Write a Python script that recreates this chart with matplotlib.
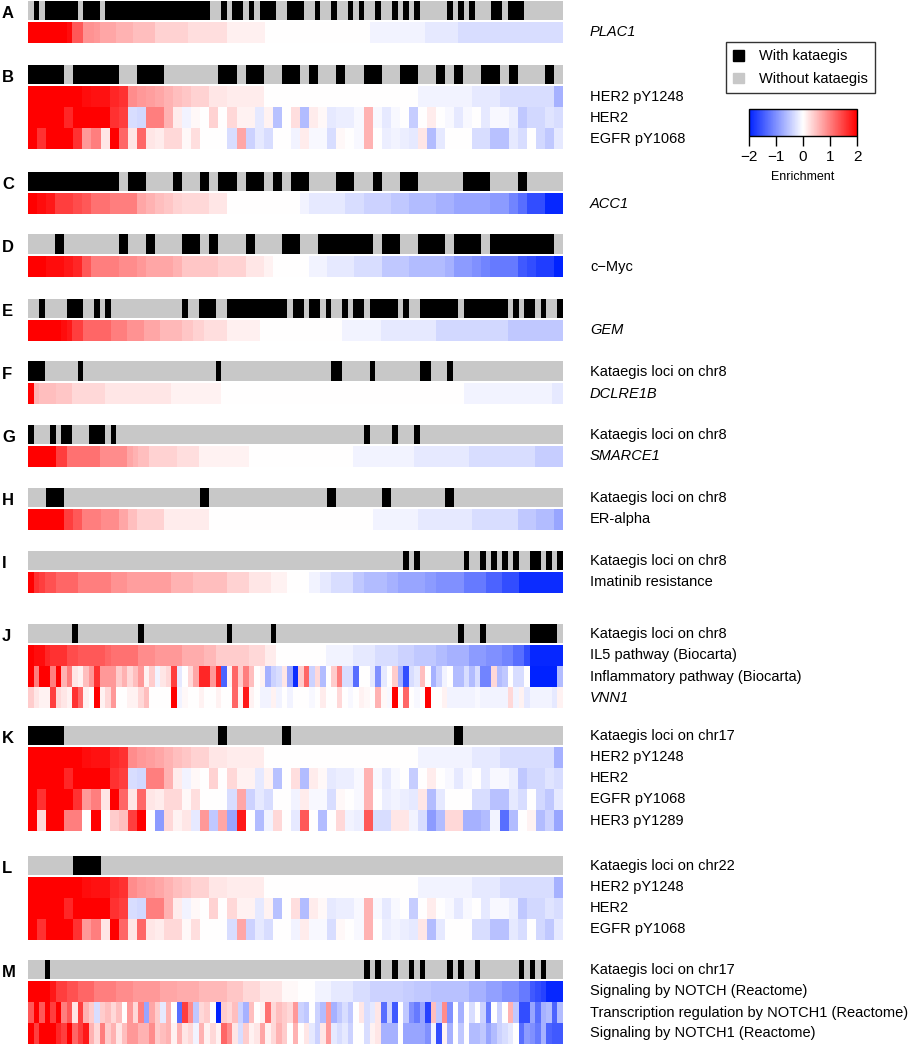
import numpy as np
import matplotlib
matplotlib.use('Agg')
import matplotlib.pyplot as plt
from matplotlib.colors import LinearSegmentedColormap, ListedColormap, Normalize
from matplotlib.cm import ScalarMappable
from matplotlib.patches import Patch

plt.rcParams['font.family'] = ['Liberation Sans', 'DejaVu Sans']

# kataegis status per sample, as run lengths: gray, black, gray, black, ...
kat_A = [1, 1, 1, 6, 1, 3, 1, 19, 2, 1, 1, 2, 1, 1, 1, 3, 2, 3, 2, 1, 2, 1, 2, 1, 1, 1, 2, 1, 2, 1,
         1, 1, 1, 1, 5, 1, 1, 1, 1, 1, 3, 2, 1, 3, 7]
kat_B = [0, 4, 1, 5, 2, 3, 6, 2, 1, 2, 2, 2, 1, 1, 2, 1, 2, 2, 2, 2, 2, 1, 1, 1, 2, 2, 1, 1, 3, 1, 1]
kat_C = [0, 10, 1, 2, 3, 1, 2, 1, 1, 2, 1, 2, 1, 1, 1, 2, 3, 2, 2, 1, 2, 2, 5, 3, 3, 1, 4]
kat_D = [3, 1, 6, 1, 2, 1, 3, 2, 1, 1, 3, 1, 3, 2, 2, 6, 1, 2, 2, 3, 1, 3, 1, 7, 1]
kat_E = [2, 1, 4, 3, 2, 1, 1, 1, 13, 1, 2, 3, 2, 11, 1, 2, 1, 2, 1, 1, 2, 1, 1, 2, 1, 5, 1, 1, 2, 7,
         1, 8, 1, 1, 1, 2, 1, 1, 2, 1]
kat_F = [0, 3, 6, 1, 24, 1, 20, 2, 5, 1, 8, 2, 3, 1, 20]
kat_G = [0, 1, 3, 1, 1, 2, 3, 3, 1, 1, 45, 1, 4, 1, 3, 1, 26]
kat_H = [2, 2, 15, 1, 13, 1, 5, 1, 6, 1, 12]
kat_I = [68, 1, 1, 1, 8, 1, 2, 1, 1, 1, 1, 1, 1, 1, 2, 2, 1, 1, 1, 1]
kat_J = [8, 1, 11, 1, 15, 1, 7, 1, 33, 1, 3, 1, 8, 5, 1]
kat_K = [0, 4, 17, 1, 6, 1, 18, 1, 11]
kat_L = [5, 3, 51]
kat_M = [3, 1, 57, 1, 1, 1, 2, 1, 2, 1, 1, 1, 4, 1, 1, 1, 2, 1, 7, 1, 1, 1, 1, 1, 3]

# sorted enrichment rows, as (value, number of samples)
plac1 = [(2, 7), (1.9, 1), (1.3, 2), (0.85, 2), (0.8, 1), (0.7, 3), (0.6, 3), (0.5, 4), (0.35, 6),
         (0.25, 7), (0.12, 7), (0, 19), (-0.1, 10), (-0.2, 6), (-0.3, 19)]
her2_py1248 = [(2, 6), (1.9, 1), (1.85, 2), (1.7, 1), (1.6, 1), (0.9, 1), (0.8, 1), (0.75, 1), (0.7, 1),
               (0.6, 1), (0.5, 1), (0.45, 1), (0.35, 2), (0.2, 2), (0.15, 4), (0, 17), (-0.1, 6),
               (-0.2, 3), (-0.3, 6), (-0.7, 1)]
acc1 = [(2, 1), (1.9, 1), (1.8, 1), (1.5, 2), (1.4, 1), (1.3, 1), (1.1, 2), (1.0, 3), (0.7, 1), (0.6, 1),
        (0.5, 1), (0.45, 1), (0.35, 1), (0.3, 3), (0.2, 2), (0, 8), (-0.1, 1), (-0.2, 4), (-0.3, 2),
        (-0.4, 3), (-0.5, 2), (-0.6, 3), (-0.7, 2), (-0.8, 4), (-0.9, 2), (-1.1, 1), (-1.3, 1),
        (-1.6, 2), (-1.95, 2)]
cmyc = [(2, 2), (1.9, 2), (1.8, 1), (1.7, 1), (1.3, 1), (1.0, 3), (0.9, 2), (0.8, 1), (0.7, 3), (0.6, 1),
        (0.45, 4), (0.35, 3), (0.2, 2), (0.1, 1), (0, 4), (-0.1, 2), (-0.2, 3), (-0.3, 3), (-0.5, 3),
        (-0.6, 4), (-0.7, 1), (-0.9, 2), (-1.0, 1), (-1.1, 1), (-1.2, 3), (-1.5, 1), (-1.6, 1),
        (-1.75, 2), (-2, 1)]
gem = [(2, 6), (1.9, 1), (1.8, 1), (1.5, 2), (1.2, 5), (1.0, 3), (0.85, 3), (0.7, 3), (0.55, 4),
       (0.45, 2), (0.35, 2), (0.25, 4), (0.12, 6), (0, 15), (-0.1, 7), (-0.2, 10), (-0.35, 13), (-0.5, 10)]
dclre1b = [(2, 1), (0.6, 1), (0.5, 3), (0.45, 3), (0.3, 6), (0.2, 12), (0.1, 9), (0, 44), (-0.1, 16),
           (-0.2, 2)]
smarce1 = [(2, 5), (1.5, 2), (1.1, 6), (0.9, 5), (0.7, 1), (0.6, 1), (0.5, 2), (0.35, 5), (0.25, 4),
           (0.1, 9), (0, 19), (-0.1, 11), (-0.2, 10), (-0.3, 12), (-0.45, 5)]
er_alpha = [(2, 4), (1.5, 1), (1.3, 1), (1.0, 2), (0.9, 2), (0.7, 1), (0.5, 1), (0.35, 3), (0.15, 5),
            (0, 18), (-0.1, 5), (-0.2, 6), (-0.3, 5), (-0.5, 2), (-0.6, 2), (-0.8, 1)]
imatinib = [(2, 1), (1.6, 1), (1.5, 1), (1.35, 2), (1.2, 4), (1.0, 6), (0.85, 3), (0.75, 8), (0.6, 4),
            (0.5, 6), (0.35, 4), (0.2, 4), (0.1, 3), (0, 4), (-0.1, 2), (-0.2, 2), (-0.3, 4), (-0.5, 2),
            (-0.6, 4), (-0.7, 2), (-0.8, 5), (-0.9, 2), (-1.0, 5), (-1.2, 4), (-1.4, 3), (-1.6, 3),
            (-1.9, 8)]
il5 = [(2, 1), (1.9, 2), (1.7, 1), (1.6, 3), (1.4, 2), (1.3, 5), (1.2, 1), (1.1, 5), (0.9, 3), (0.8, 5),
       (0.65, 4), (0.55, 2), (0.4, 6), (0.3, 3), (0.15, 2), (0, 9), (-0.1, 5), (-0.2, 4), (-0.3, 4),
       (-0.4, 3), (-0.5, 4), (-0.6, 2), (-0.7, 4), (-0.9, 3), (-1.0, 3), (-1.1, 2), (-1.3, 2),
       (-1.6, 1), (-1.95, 6)]
notch = [(2, 4), (1.8, 1), (1.5, 2), (1.35, 2), (1.2, 3), (1.0, 4), (0.9, 3), (0.8, 5), (0.7, 3),
         (0.65, 4), (0.55, 5), (0.45, 3), (0.3, 3), (0.2, 4), (0.05, 3), (0, 3), (-0.1, 3), (-0.2, 4),
         (-0.3, 3), (-0.4, 6), (-0.45, 2), (-0.5, 3), (-0.55, 7), (-0.7, 3), (-0.85, 3), (-1.0, 3),
         (-1.2, 2), (-1.5, 1), (-1.6, 1), (-1.7, 1), (-1.95, 3)]

# unsorted rows, one value per sample
her2 = [2, 2, 2, 2, 1.7, 2, 2, 2, 2, 1.6, 1.5, -0.3, -0.35, 1.0, 1.0, 0.6, 0.15, -0.1, 0.05, 0,
        0.35, 0, 0.3, 0.1, 0.1, -0.2, 0.1, -0.55, 0, 0.25, -0.6, 0.15, 0.05, -0.2, -0.15, -0.15, -0.05,
        0.6, -0.05, -0.2, -0.05, 0, -0.45, 0, 0.15, 0, -0.05, -0.2, -0.05, 0, -0.2, -0.05, -0.05,
        -0.15, -0.5, -0.35, -0.35, -0.25, -0.3]
egfr_py1068 = [2, 1.6, 2, 2, 2, 1.6, 0.8, 1.0, 0.2, 2, 1.2, 0.2, 1.2, 0.2, 0.15, 0.3, 0.3, 0.05, 0.25,
               0, 0, 0, -0.3, 0.7, -0.4, -0.2, -0.3, 0, 0, -0.1, 0.15, -0.05, -0.05, -0.3, 0.05, 0,
               -0.05, 0.6, 0, -0.15, -0.1, -0.15, -0.2, 0.2, -0.6, -0.2, 0, 0, 0, -0.3, -0.3, -0.55,
               -0.55, -0.2, -0.3, 0, -0.35, -0.5, -0.2]
her3_py1289 = [2, 0.3, 2, 2, 1.0, 1.0, 0, 2, 0, 0.4, 0.5, 1.5, 2, 0, -0.9, 0.3, 0.1, 0.2, -0.2, 0.8,
               -0.5, 0.7, -0.8, 1.8, 0, -0.6, -0.1, 0.3, 0, -0.2, 1.3, 0, -0.6, 0, 0.3, -0.1, -0.15,
               1.3, -0.3, -0.3, 0.2, 0.2, -0.1, -0.3, -0.9, -0.6, 0.3, 0.3, -0.7, -0.7, -0.6, -0.1,
               -1.3, -0.6, 0, 0.1, -0.6, -0.4, -0.8]
inflammatory = [2, 1.0, 2, 2, 1.0, 2, 0.6, 1.0, 0.2, 0.1, 0.5, 0.8, 1.6, 0.8, 0.8, 0.8, 0.4, 0.6, 0.3,
                0.5, 0.8, 0.1, 0.4, -0.1, 0.2, 0.3, 1.5, -0.2, 0, 0.3, 0.7, 1.7, 1.7, 0.8, 1.7, -1.4,
                0.1, 1.2, 0.4, 1.0, 0.5, 0, 0.1, -0.7, -0.4, -0.3, 0.2, -0.8, -1.9,
                0.4, 1.2, -0.4, 0.3, -0.6, 0, 0.4, 1.0, -0.3, -0.3, -1.3, 0, 0, -0.2, -1.0, -0.2, 0,
                0.4, -0.7, -1.6, -0.3, -0.2, 0.5, 0, -0.7, -0.4, -0.1, 0, -0.6, -0.6, -0.3, -0.6,
                -0.3, -1.1, -1.1, 0.3, -0.6, -0.5, 0, -0.3, -0.3, 0, -2, -2, -2, -2, -2, -0.6]
vnn1 = [0.4, 0.2, 0.1, 0.1, 1.5, 0.3, 0.2, 0.1, 1.6, 1.2, 0.1, 0, 2, 0.1, 0.3, 0.8, 0, 0, 0.1, 0.1,
        0.3, 0.5, 0, 0, 0, 0, 2, -0.1, 0.05, 0, 0, 0.1, 0, 0, 0.1, 0, 0, 1.2, 0.1, 1.8, 0.1, 0, -0.1,
        -0.1, 0.1, -0.1, 0, -0.1, 0,
        0, 0, -0.05, 0, 0.15, 0, 0, 0.3, 0, -0.05, 0, 0.1, 0.05, 0, 0.6, 0.05, -0.05, 2, 0, 1.2, 0,
        -0.05, 0, 2, 0, 0, 0.1, -0.1, -0.1, -0.1, -0.1, -0.1, -0.05, -0.1, -0.1, -0.1, -0.1, -0.1,
        0.3, -0.1, 0.1, -0.2, -0.1, -0.1, -0.1, -0.1, -0.2, 0.1]
notch1_transcription = [1.3, 2, 1.3, 2, 1.5, 2, 1.0, 1.3, 0.2, 1.5, 0.6, 0.4, -0.3, 0.4, 0.5, 0.3, 0.5,
                        0, 0.8, 0.3, 1.0, -0.8, 0.7, 0.4, -0.2, 0.6, 0, -1.3, 1.5, 0.9, -0.5, 0.3,
                        0.4, 0, -2, 0.4, 0.3, 0.5, -0.4, -0.7, 0.5, 0, 0.1, 1.1, 0.3, 0.5, 0.4, 0.3,
                        0.8,
                        -0.4, -0.5, 0, -0.4, -0.6, 0.8, -0.7, -0.5, -0.3, -0.5, 0, 0.2, -0.3, -0.2,
                        0.2, -1.3, -0.4, -1.5, 0, -0.5, -1.0, -1.2, -0.8, -1.7, 0.5, -0.5, 0.9, -1.0,
                        0, -0.7, 0, -0.3, 0, -0.4, -1.2, 0, -0.4, 0, 0.6, -0.5, -1.6, -1.6, -0.8,
                        -1.3, -0.7, -0.6, -1.4, -0.6]
notch1_signaling = [2, 1.5, 2, 2, 2, 1.7, 1.5, 2, 1.2, 1.5, 1.8, 0.6, 0.3, 1.0, 0.4, 0.6, 0.2, 0.5,
                    0.8, 0.8, 0.6, 0.6, 0.9, 0.4, 0.5, 0.6, 0.1, 0.6, 0.2, 0.3, -0.1, 0.6, 0.1, 0.3,
                    0.1, 1.2, 0.9, 0.2, -0.3, 0.4, 0.1, 0.2, 0.7, 0.1, 0.3, 0.6, 0.4, 0, 0.6,
                    0, 0.2, -0.2, -0.4, 0.2, 0.8, -0.2, -0.3, -0.2, -0.4, 0, 0, -0.3, 0.1, 0.2, -0.7,
                    -0.7, -0.7, 0, -0.8, -0.8, -0.8, -0.8, -1.0, -0.1, -1.6, 0.1, -0.7, 0, -0.5, 0,
                    -0.6, -0.6, -0.5, -0.8, -0.6, -0.4, -0.3, -0.2, 0, -1.3, -0.9, -1.0, -1.2, -0.7,
                    -1.4, -1.5, -1.5]


def expand(pairs):
    return [v for v, n in pairs for _ in range(n)]


def kat_row(runs):
    out = []
    for i, n in enumerate(runs):
        out += [i % 2] * n
    return out


chr8 = 'Kataegis loci on chr8'
# letter, kataegis runs, enrichment rows, labels (first one = kataegis row), italic labels
panels = [
    ('A', kat_A, [expand(plac1)], [None, 'PLAC1'], ['PLAC1']),
    ('B', kat_B, [expand(her2_py1248), her2, egfr_py1068],
     [None, 'HER2 pY1248', 'HER2', 'EGFR pY1068'], []),
    ('C', kat_C, [expand(acc1)], [None, 'ACC1'], ['ACC1']),
    ('D', kat_D, [expand(cmyc)], [None, 'c\u2212Myc'], []),
    ('E', kat_E, [expand(gem)], [None, 'GEM'], ['GEM']),
    ('F', kat_F, [expand(dclre1b)], [chr8, 'DCLRE1B'], ['DCLRE1B']),
    ('G', kat_G, [expand(smarce1)], [chr8, 'SMARCE1'], ['SMARCE1']),
    ('H', kat_H, [expand(er_alpha)], [chr8, 'ER-alpha'], []),
    ('I', kat_I, [expand(imatinib)], [chr8, 'Imatinib resistance'], []),
    ('J', kat_J, [expand(il5), inflammatory, vnn1],
     [chr8, 'IL5 pathway (Biocarta)', 'Inflammatory pathway (Biocarta)', 'VNN1'], ['VNN1']),
    ('K', kat_K, [expand(her2_py1248), her2, egfr_py1068, her3_py1289],
     ['Kataegis loci on chr17', 'HER2 pY1248', 'HER2', 'EGFR pY1068', 'HER3 pY1289'], []),
    ('L', kat_L, [expand(her2_py1248), her2, egfr_py1068],
     ['Kataegis loci on chr22', 'HER2 pY1248', 'HER2', 'EGFR pY1068'], []),
    ('M', kat_M, [expand(notch), notch1_transcription, notch1_signaling],
     ['Kataegis loci on chr17', 'Signaling by NOTCH (Reactome)',
      'Transcription regulation by NOTCH1 (Reactome)', 'Signaling by NOTCH1 (Reactome)'], []),
]
panel_tops = [0.5, 64.5, 171.5, 234.5, 298.5, 361.5, 424.5, 487.5, 550.5, 623.5, 725.5, 855.5, 959.5]

W, H = 917, 1050
X0, X1 = 27.5, 561.7
ROW = 21


def box(x, y, w, h):
    return [x / W, 1 - (y + h) / H, w / W, h / H]


kat_cmap = ListedColormap(['#C8C8C8', '#000000'])
enr_cmap = LinearSegmentedColormap.from_list('enrichment', ['#0022FF', '#FFFFFF', '#FF0000'])

fig = plt.figure(figsize=(W / 100, H / 100), dpi=100)

for (letter, kruns, rows, labels, italics), top in zip(panels, panel_tops):
    k = np.array(kat_row(kruns))[None, :]
    ax = fig.add_axes(box(X0, top, X1 - X0, ROW - 1))
    ax.imshow(k, cmap=kat_cmap, vmin=0, vmax=1, aspect='auto', interpolation='nearest')
    ax.axis('off')

    mat = np.array(rows, dtype=float)
    ax2 = fig.add_axes(box(X0, top + ROW + 0.5, X1 - X0, ROW * len(rows)))
    ax2.imshow(mat, cmap=enr_cmap, vmin=-2, vmax=2, aspect='auto', interpolation='nearest')
    ax2.axis('off')

    fig.text(2 / W, 1 - (top + 13) / H, letter, fontsize=12, fontweight='bold', va='center', ha='left')
    for i, lab in enumerate(labels):
        if lab is None:
            continue
        yc = top + 10.5 if i == 0 else top + ROW + 11 + ROW * (i - 1)
        fig.text(590 / W, 1 - yc / H, lab, fontsize=10.5, va='center', ha='left',
                 style='italic' if lab in italics else 'normal')

# legend
handles = [Patch(facecolor='black', edgecolor='black'),
           Patch(facecolor='#C8C8C8', edgecolor='#C8C8C8')]
leg = fig.legend(handles, ['With kataegis', 'Without kataegis'], loc='upper left',
                 bbox_to_anchor=(726 / W, 1 - 42 / H), frameon=True, fancybox=False,
                 edgecolor='black', fontsize=10.5, handlelength=0.75, handleheight=0.75,
                 handletextpad=1.0, borderpad=0.5, labelspacing=0.6, borderaxespad=0)
leg.get_frame().set_linewidth(1)

# colour key
cax = fig.add_axes(box(749, 109, 108, 27))
cb = fig.colorbar(ScalarMappable(norm=Normalize(-2, 2), cmap=enr_cmap), cax=cax,
                  orientation='horizontal', ticks=[-2, -1, 0, 1, 2])
cb.ax.tick_params(length=7, width=1, labelsize=11, pad=3)
cb.outline.set_linewidth(1)
cb.set_label('Enrichment', fontsize=9, labelpad=5)

fig.savefig('out.png', dpi=100)
